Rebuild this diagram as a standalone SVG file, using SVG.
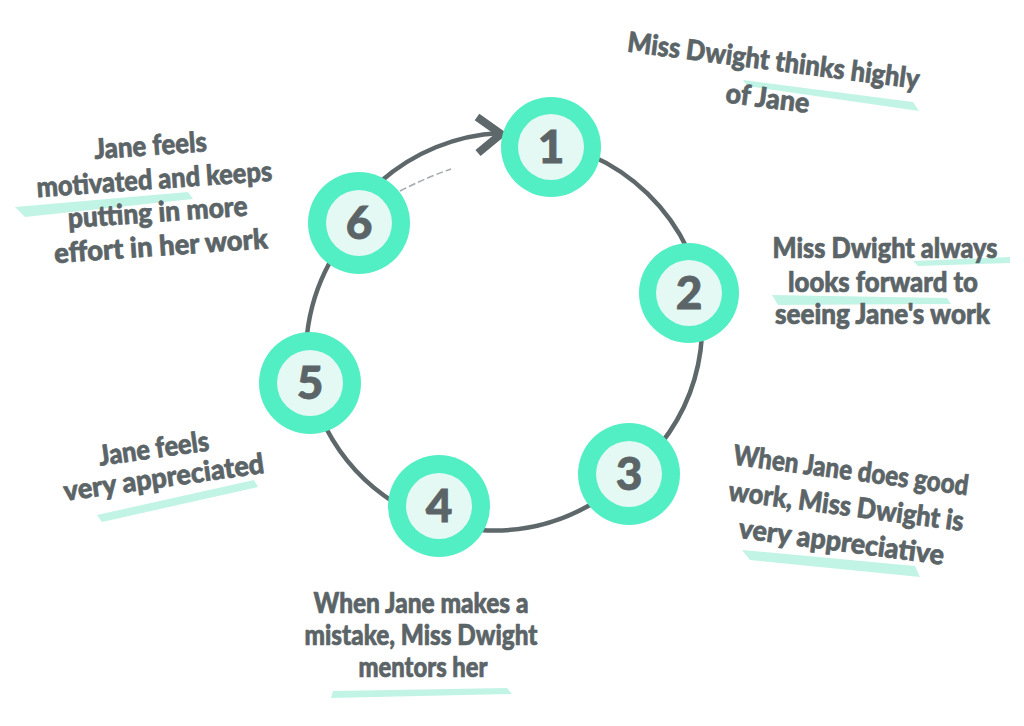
<svg xmlns="http://www.w3.org/2000/svg" width="1024" height="726" viewBox="0 0 1024 726">
<defs>
<style>
.t{font-family:Lato,"Open Sans","Liberation Sans",sans-serif;font-weight:900;font-size:28px;fill:#5b6467;stroke:#5b6467;stroke-width:0.7;stroke-linejoin:round;text-anchor:middle}
.n{font-family:Lato,"Open Sans","Liberation Sans",sans-serif;font-weight:900;font-size:46px;fill:#5b6467;stroke:#5b6467;stroke-width:0.8;text-anchor:middle}
.hl{fill:#c2f4e5}
.c{fill:none;stroke:#5e686b;stroke-width:4.5;stroke-linecap:round}
.outer{fill:#52eec4}
.inner{fill:#e4f9f4}
</style>
</defs>
<rect width="1024" height="726" fill="#ffffff"/>
<g id="connectors">
<path class="c" d="M380,182 A195 195 0 0 1 500,133"/>
<path class="c" d="M590,155 A195 195 0 0 1 688,250"/>
<path class="c" d="M702,335 A195 195 0 0 1 660,445"/>
<path class="c" d="M590,505 A195 195 0 0 1 480,530"/>
<path class="c" d="M395,503 A195 195 0 0 1 326,428"/>
<path class="c" d="M307,335 A195 195 0 0 1 330,262"/>
<path d="M400,191 Q425,178 451,169" fill="none" stroke="#8c9497" stroke-width="1.5" stroke-dasharray="7 3" opacity="0.8"/>
<polyline points="477,117 501,134 478,153" fill="none" stroke="#5e686b" stroke-width="8" stroke-linejoin="miter"/>
</g>
<g id="node1"><circle class="outer" cx="551" cy="147" r="50"/><circle class="inner" cx="551" cy="147" r="33"/><text class="n" x="551" y="163">1</text></g>
<g id="node2"><circle class="outer" cx="689" cy="293" r="50"/><circle class="inner" cx="689" cy="293" r="33"/><text class="n" x="689" y="309">2</text></g>
<g id="node3"><circle class="outer" cx="629" cy="474" r="51"/><circle class="inner" cx="629" cy="474" r="33"/><text class="n" x="629" y="490">3</text></g>
<g id="node4"><circle class="outer" cx="439" cy="506" r="51"/><circle class="inner" cx="439" cy="506" r="33"/><text class="n" x="439" y="522">4</text></g>
<g id="node5"><circle class="outer" cx="310" cy="383" r="51"/><circle class="inner" cx="310" cy="383" r="33"/><text class="n" x="310" y="399">5</text></g>
<g id="node6"><circle class="outer" cx="359" cy="223" r="51"/><circle class="inner" cx="359" cy="223" r="33"/><text class="n" x="359" y="239">6</text></g>
<g id="label1">
<polygon class="hl" points="743,80 913,102 919,111 747,86"/>
<g transform="rotate(7.3 770 80)">
<text class="t" x="771" y="70" textLength="294" lengthAdjust="spacingAndGlyphs">Miss Dwight thinks highly</text>
<text class="t" x="770" y="108" textLength="84" lengthAdjust="spacingAndGlyphs">of Jane</text>
</g>
</g>
<g id="label6">
<polygon class="hl" points="15,207 188,192 193,199 25,217"/>
<g transform="rotate(-4 155 205)">
<text class="t" x="154.5" y="155" textLength="113" lengthAdjust="spacingAndGlyphs">Jane feels</text>
<text class="t" x="156" y="189" textLength="236" lengthAdjust="spacingAndGlyphs">motivated and keeps</text>
<text class="t" x="157" y="222" textLength="180" lengthAdjust="spacingAndGlyphs">putting in more</text>
<text class="t" x="158" y="256" textLength="214" lengthAdjust="spacingAndGlyphs">effort in her work</text>
</g>
</g>
<g id="label2">
<polygon class="hl" points="913,261 1010,257 1010,263 918,266"/>
<polygon class="hl" points="772,295 947,298 951,304 778,305"/>
<text class="t" x="885" y="258" textLength="225" lengthAdjust="spacingAndGlyphs">Miss Dwight always</text>
<text class="t" x="883" y="292" textLength="190" lengthAdjust="spacingAndGlyphs">looks forward to</text>
<text class="t" x="882.5" y="324" textLength="215" lengthAdjust="spacingAndGlyphs">seeing Jane's work</text>
</g>
<g id="label3">
<polygon class="hl" points="742,550 915,566 920,577 750,560"/>
<g transform="rotate(7.5 848 516)">
<text class="t" x="845" y="480" textLength="237" lengthAdjust="spacingAndGlyphs">When Jane does good</text>
<text class="t" x="845" y="516" textLength="237" lengthAdjust="spacingAndGlyphs">work, Miss Dwight is</text>
<text class="t" x="845" y="552" textLength="207" lengthAdjust="spacingAndGlyphs">very appreciative</text>
</g>
</g>
<g id="label4">
<polygon class="hl" points="333,691 507,688 512,694 331,698"/>
<text class="t" x="421" y="613" textLength="215" lengthAdjust="spacingAndGlyphs">When Jane makes a</text>
<text class="t" x="421" y="645" textLength="233" lengthAdjust="spacingAndGlyphs">mistake, Miss Dwight</text>
<text class="t" x="423" y="677" textLength="129" lengthAdjust="spacingAndGlyphs">mentors her</text>
</g>
<g id="label5">
<polygon class="hl" points="97,515 254,480 258,487 102,522"/>
<g transform="rotate(-8 160 472)">
<text class="t" x="157" y="457.5" textLength="111" lengthAdjust="spacingAndGlyphs">Jane feels</text>
<text class="t" x="163" y="487.5" textLength="202" lengthAdjust="spacingAndGlyphs">very appreciated</text>
</g>
</g>
</svg>
